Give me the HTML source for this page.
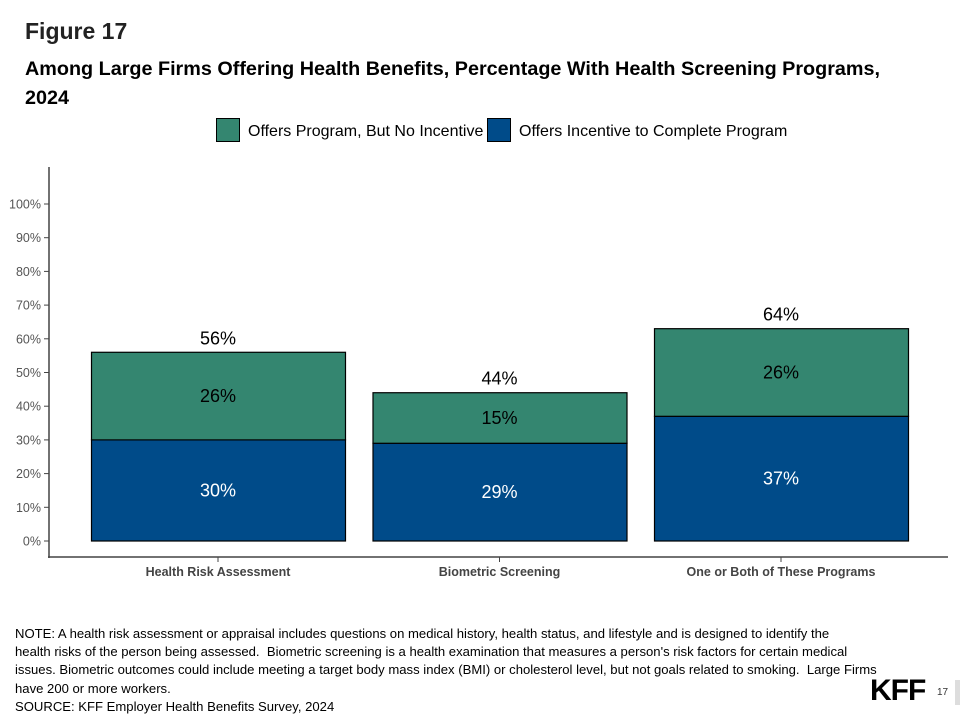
<!DOCTYPE html>
<html><head><meta charset="utf-8"><style>
body{margin:0;width:960px;height:720px;background:#fff;font-family:"Liberation Sans",Arial,sans-serif;overflow:hidden;position:relative}
.a{position:absolute;margin:0}
</style></head><body>
<div class="a" style="left:25px;top:18px;font-size:23px;font-weight:bold;color:#222">Figure 17</div>
<div class="a" style="left:25px;top:55px;font-size:19.8px;font-weight:bold;line-height:29px;color:#000;width:900px">Among Large Firms Offering Health Benefits, Percentage With Health Screening Programs, 2024</div>
<svg class="a" style="left:0;top:0" width="960" height="720">
<g id="legend">
<rect x="216.5" y="118.5" width="23" height="23" fill="#348670" stroke="#000"/>
<text x="248" y="136" font-size="16" fill="#000">Offers Program, But No Incentive</text>
<rect x="487.5" y="118.5" width="23" height="23" fill="#004b89" stroke="#000"/>
<text x="519" y="136" font-size="16" fill="#000">Offers Incentive to Complete Program</text>
</g>
<g id="axes"></g><g id="bars"></g>
</svg>
<div class="a" style="left:15px;top:625px;font-size:13.1px;line-height:18.2px;color:#000;width:940px;white-space:nowrap">NOTE: A health risk assessment or appraisal includes questions on medical history, health status, and lifestyle and is designed to identify the<br>health risks of the person being assessed.&nbsp; Biometric screening is a health examination that measures a person's risk factors for certain medical<br>issues. Biometric outcomes could include meeting a target body mass index (BMI) or cholesterol level, but not goals related to smoking.&nbsp; Large Firms<br>have 200 or more workers.<br>SOURCE: KFF Employer Health Benefits Survey, 2024</div>
<div class="a" style="left:870px;top:674px;font-size:30px;font-weight:bold;letter-spacing:-1px;color:#000;background:#fff">KFF</div>
<div class="a" style="left:937px;top:687px;font-size:10px;color:#333">17</div>
<div class="a" style="left:955px;top:680px;width:5px;height:25px;background:#ddd"></div>
<script>
const categories=["Health Risk Assessment","Biometric Screening","One or Both of These Programs"];
const incentive=[30,29,37];
const noIncentive=[26,15,26];
const totalLabels=["56%","44%","64%"];
const yTicks=[0,10,20,30,40,50,60,70,80,90,100];
const NS="http://www.w3.org/2000/svg";
const y0=541,pxPer=3.37;
const y=v=>y0-v*pxPer;
const bandX=i=>91+i*281.5,bw=254;
function mk(t,at,p){const e=document.createElementNS(NS,t);for(const k in at)e.setAttribute(k,at[k]);p.appendChild(e);return e;}
const ax=document.getElementById('axes'),bg=document.getElementById('bars');
let l=mk('line',{x1:49,y1:167,x2:49,y2:558,stroke:'#444','stroke-width':1.5},ax);


l=mk('line',{x1:48,y1:557,x2:948,y2:557,stroke:'#444','stroke-width':1.5},ax);


yTicks.forEach(v=>{
 mk('line',{x1:44,x2:49,y1:y(v),y2:y(v),stroke:'#444'},ax);
 const t=mk('text',{x:41,y:y(v)+4.5,'text-anchor':'end','font-size':12.5,fill:'#555'},ax);
 t.textContent=v+'%';
 
 
});
categories.forEach((c,i)=>{
 const x=bandX(i),a=incentive[i],b=noIncentive[i];
 let r=mk('rect',{x:x+0.5,y:y(a),width:bw,height:a*pxPer,fill:'#004b89',stroke:'#000','stroke-width':1.2},bg);
 
 
 r=mk('rect',{x:x+0.5,y:y(a+b),width:bw,height:b*pxPer,fill:'#348670',stroke:'#000','stroke-width':1.2},bg);
 
 
 let t=mk('text',{x:x+bw/2,y:y(a/2)+6,'text-anchor':'middle','font-size':18,fill:'#fff'},bg);t.textContent=a+'%';
 
 
 t=mk('text',{x:x+bw/2,y:y(a+b/2)+6,'text-anchor':'middle','font-size':18,fill:'#000'},bg);t.textContent=b+'%';
 
 
 t=mk('text',{x:x+bw/2,y:y(a+b)-8,'text-anchor':'middle','font-size':18,fill:'#000'},bg);t.textContent=totalLabels[i];
 
 
 mk('line',{x1:x+bw/2,x2:x+bw/2,y1:557,y2:562,stroke:'#444'},ax);
 t=mk('text',{x:x+bw/2,y:576,'text-anchor':'middle','font-size':12.5,'font-weight':'bold',fill:'#444'},ax);t.textContent=c;
 
 
});
</script>
</body></html>
